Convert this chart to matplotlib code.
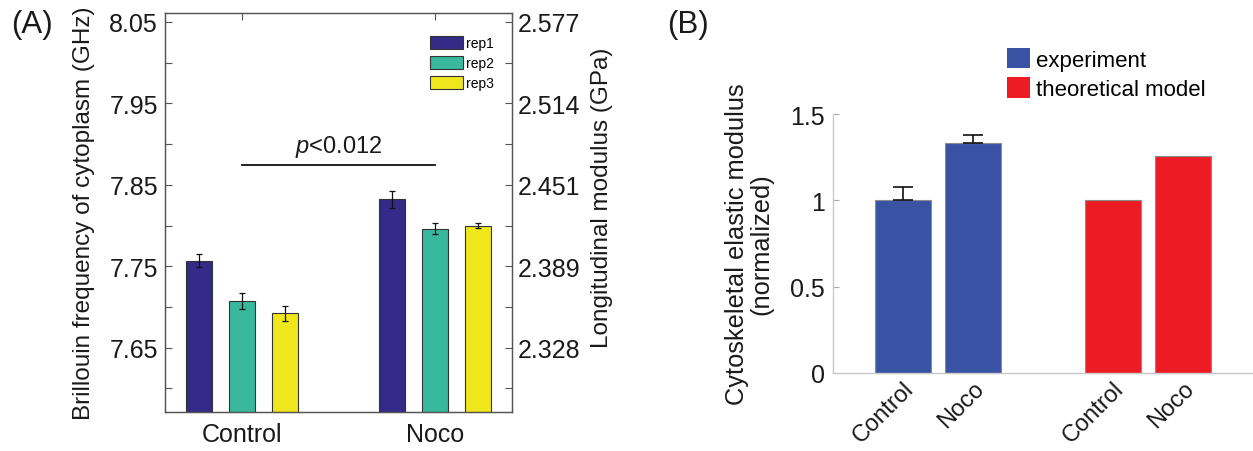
import matplotlib
matplotlib.use("Agg")
import matplotlib.pyplot as plt
import numpy as np
from matplotlib.patches import Patch

plt.rcParams['font.family'] = ['Liberation Sans', 'DejaVu Sans']
plt.rcParams['mathtext.fontset'] = 'custom'
plt.rcParams['mathtext.it'] = 'Liberation Sans:italic'
plt.rcParams['mathtext.rm'] = 'Liberation Sans'

# ---------------- Data: panel A ----------------
groups_A = ["Control", "Noco"]
reps_A = ["rep1", "rep2", "rep3"]
rep1_vals = [7.757, 7.832]
rep2_vals = [7.707, 7.796]
rep3_vals = [7.692, 7.800]
rep1_err = [0.008, 0.011]
rep2_err = [0.010, 0.007]
rep3_err = [0.009, 0.003]
left_ticks_A = [7.65, 7.75, 7.85, 7.95, 8.05]
right_tick_labels_A = ["2.328", "2.389", "2.451", "2.514", "2.577"]
p_text = "$p$<0.012"
p_line_level = 7.874

# ---------------- Data: panel B ----------------
cats_B = ["Control", "Noco", "Control", "Noco"]
experiment_vals = [1.0, 1.333]
experiment_err = [0.079, 0.048]
model_vals = [1.0, 1.259]
series_B = ["experiment", "theoretical model"]

W, H = 1253, 452
fig = plt.figure(figsize=(W / 100, H / 100), dpi=100)

txt = '#1a1a1a'
spine_c = '#555555'

# ================= Panel A =================
axA = fig.add_axes([165 / W, (H - 413) / H, (512 - 165) / W, (413 - 14) / H])
x = np.arange(1, len(groups_A) + 1)
offs = [-0.222, 0.0, 0.222]
bw = 0.134
colors_A = ['#352a87', '#38b99e', '#f0e61c']
vals_list = [rep1_vals, rep2_vals, rep3_vals]
err_list = [rep1_err, rep2_err, rep3_err]
for i in range(3):
    axA.bar(x + offs[i], vals_list[i], width=bw, color=colors_A[i],
            edgecolor='#333333', linewidth=0.8, label=reps_A[i], zorder=2)
    axA.errorbar(x + offs[i], vals_list[i], yerr=err_list[i], fmt='none',
                 ecolor='#111111', elinewidth=0.9, capsize=2, capthick=0.9, zorder=3)

axA.set_xlim(0.6, 2.4)
axA.set_ylim(7.571, 8.061)
axA.set_xticks(x)
axA.set_xticklabels(groups_A, fontsize=18, color=txt)
axA.set_yticks(left_ticks_A)
axA.set_yticklabels([f"{v:.2f}" for v in left_ticks_A], fontsize=18, color=txt)
axA.set_yticks(np.array(left_ticks_A) - 0.05, minor=True)
axA.tick_params(axis='both', which='both', direction='in', length=5,
                color=spine_c, width=0.8, top=True, right=False)
axA.tick_params(axis='y', pad=5)
axA.tick_params(axis='x', pad=7)
for s in axA.spines.values():
    s.set_color(spine_c)
    s.set_linewidth(0.9)
axA.set_ylabel("Brillouin frequency of cytoplasm (GHz)", fontsize=17.5, color=txt, labelpad=10)

axA2 = axA.twinx()
axA2.set_ylim(axA.get_ylim())
axA2.set_yticks(left_ticks_A)
axA2.set_yticklabels(right_tick_labels_A, fontsize=18, color=txt)
axA2.set_yticks(np.array(left_ticks_A) - 0.05, minor=True)
axA2.tick_params(axis='y', which='both', direction='in', length=5, color=spine_c, width=0.8, pad=4)
for s in axA2.spines.values():
    s.set_color(spine_c)
    s.set_linewidth(0.9)
axA2.set_ylabel("Longitudinal modulus (GPa)", fontsize=17.5, color=txt, labelpad=8, y=0.54)

# significance line
axA.plot([x[0], x[1]], [p_line_level, p_line_level], color='#111111', lw=1.3, zorder=3)
axA.text((x[0] + x[1]) / 2, p_line_level + 0.008, p_text, ha='center', va='bottom',
         fontsize=17, color=txt)

axA.legend(loc='upper left', bbox_to_anchor=((430 - 165) / 347, (413 - 37) / 399),
           frameon=False, fontsize=10,
           handlelength=2.37, handleheight=1.08, labelspacing=0.4, handletextpad=0.25,
           borderaxespad=0, borderpad=0)

fig.text(11 / W, 1 - 25 / H, "(A)", fontsize=22.5, color=txt, va='center', ha='left')

# ================= Panel B =================
axB = fig.add_axes([833 / W, (H - 374) / H, (W - 833) / W, (374 - 115) / H])
xB = [1, 2, 4, 5]
blue = '#3953a4'
red = '#ed1c24'
bwB = 0.81
axB.bar(xB[:2], experiment_vals, width=bwB, color=blue, edgecolor='#8c8c8c',
        linewidth=0.8, zorder=2)
axB.errorbar(xB[:2], experiment_vals, yerr=[[0, 0], experiment_err], fmt='none',
             ecolor='#111111', elinewidth=1.2, capsize=7, capthick=1.2, zorder=3)
axB.bar(xB[2:], model_vals, width=bwB, color=red, edgecolor='#8c8c8c',
        linewidth=0.8, zorder=2)
axB.set_xlim(0, 6)
axB.set_ylim(0, 1.5)
axB.set_yticks([0, 0.5, 1, 1.5])
axB.set_yticklabels(["0", "0.5", "1", "1.5"], fontsize=18, color=txt)
axB.set_xticks(xB)
axB.set_xticklabels(cats_B, fontsize=17, color=txt, rotation=45, ha='right',
                    rotation_mode='anchor')
axB.tick_params(axis='y', direction='in', length=4, color='#aaaaaa', width=0.8, pad=6)
axB.tick_params(axis='x', length=0, pad=3)
for k in ['top', 'right']:
    axB.spines[k].set_visible(False)
for k in ['left', 'bottom']:
    axB.spines[k].set_color('#c8c8c8')
    axB.spines[k].set_linewidth(1.0)
axB.set_ylabel("Cytoskeletal elastic modulus\n(normalized)", fontsize=18.3, color=txt,
               labelpad=12, linespacing=1.0)

handles = [Patch(facecolor=blue, edgecolor='none'), Patch(facecolor=red, edgecolor='none')]
fig.legend(handles, series_B, loc='upper left', bbox_to_anchor=(1007 / W, 1 - 49 / H),
           frameon=False, fontsize=16, handlelength=1.04, handleheight=1.04,
           handletextpad=0.25, labelspacing=0.3, borderaxespad=0, borderpad=0)

fig.text(667 / W, 1 - 25 / H, "(B)", fontsize=22.5, color=txt, va='center', ha='left')

fig.savefig("out.png", dpi=100)
